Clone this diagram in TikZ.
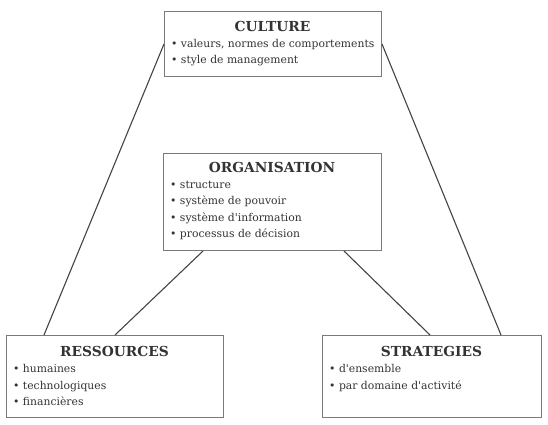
\documentclass[tikz,border=0pt]{standalone}
\usepackage{fontspec}
\setmainfont{DejaVu Serif}
\definecolor{txt}{HTML}{333333}
\definecolor{boxc}{HTML}{7A7A7A}
\definecolor{linec}{HTML}{444444}
\newcommand{\apos}{\textquotesingle}
\tikzset{
  box/.style={draw=boxc, line width=1pt, rectangle, anchor=north west, inner sep=0pt},
  head/.style={font=\fontsize{13.8}{15}\selectfont\bfseries, text=txt, inner sep=0pt, anchor=base},
  items/.style={font=\fontsize{10.8}{16.5}\selectfont, text=txt, align=left, inner sep=0pt, anchor=north west},
  conn/.style={draw=linec, line width=1.1pt}
}
\begin{document}
\begin{tikzpicture}[x=1pt,y=-1pt]
\useasboundingbox[fill=white] (0,0) rectangle (548,424);
% boxes
\node[box, minimum width=217pt, minimum height=65pt] (cult) at (164,11) {};
\node[box, minimum width=218pt, minimum height=97pt] (org) at (163,153) {};
\node[box, minimum width=217pt, minimum height=82pt] (ress) at (6,335) {};
\node[box, minimum width=219pt, minimum height=82pt] (strat) at (322,335) {};
% connectors
\draw[conn] (cult.west) -- ([xshift=38pt]ress.north west);
\draw[conn] (cult.east) -- ([xshift=-41pt]strat.north east);
\draw[conn] ([xshift=40pt]org.south west) -- ([xshift=109pt]ress.north west);
\draw[conn] ([xshift=-38pt]org.south east) -- ([xshift=108pt]strat.north west);
% texts
\node[head] (cultH) at (272.5,31) {CULTURE};
\node[items] (cultI) at (171,39) {• valeurs, normes de comportements\\• style de management};
\node[head] (orgH) at (272,172) {ORGANISATION};
\node[items] (orgI) at (170,180.5) {• structure\\• système de pouvoir\\• système d\apos information\\• processus de décision};
\node[head] (ressH) at (114.5,356) {RESSOURCES};
\node[items] (ressI) at (13,364.5) {• humaines\\• technologiques\\• financières};
\node[head] (stratH) at (431.5,356) {STRATEGIES};
\node[items] (stratI) at (329,364.5) {• d\apos ensemble\\• par domaine d\apos activité};
\end{tikzpicture}
\end{document}
